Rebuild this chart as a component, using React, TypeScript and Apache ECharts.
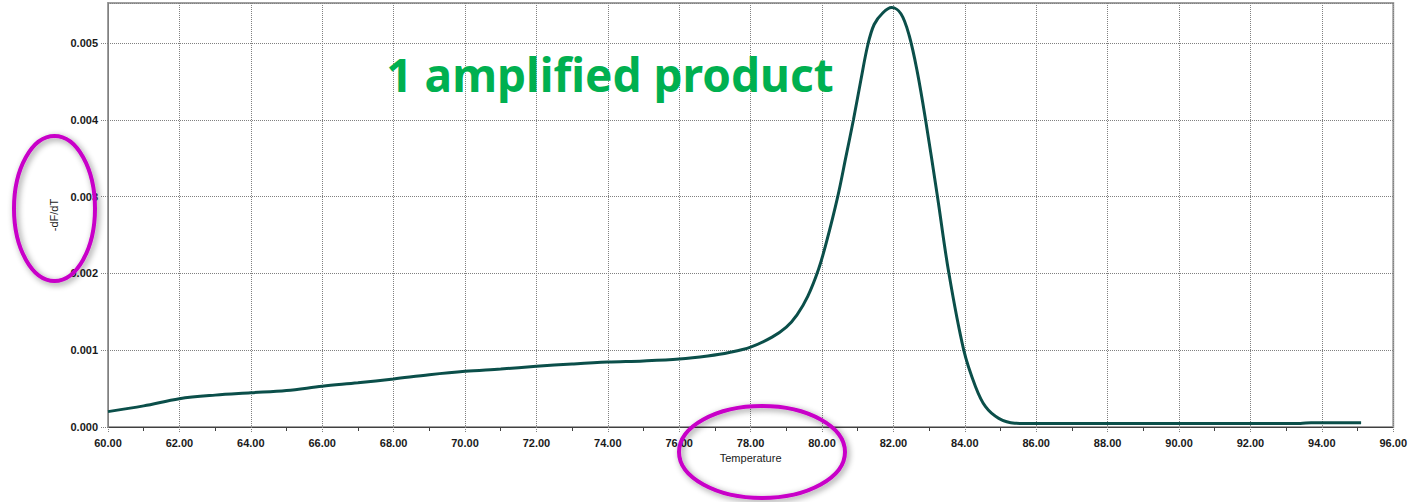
import React, { useEffect, useRef } from "react";
import * as echarts from "echarts";

// Temperature (°C) and melt curve derivative (-dF/dT)
const temperatures = [
  60, 61, 62, 63, 64, 65, 66, 67, 68, 69, 70, 71, 72, 73, 74, 75, 76,
  76.8, 77.4, 78, 78.6, 79.0, 79.3, 79.6, 79.9, 80.12, 80.44, 80.67, 80.88,
  81.09, 81.28, 81.46, 81.7, 81.95, 82.21, 82.44, 82.67, 82.9, 83.23, 83.55,
  83.97, 84.3, 84.58, 84.95, 85.4, 86, 88, 90, 92, 93.4, 93.7, 95.1,
];
const dfdt = [
  0.0002, 0.000275, 0.000368, 0.000415, 0.000445, 0.000475, 0.00053, 0.000575,
  0.000625, 0.00068, 0.000725, 0.000755, 0.00079, 0.00082, 0.000845, 0.00086,
  0.000885, 0.000925, 0.00097, 0.00104, 0.00117, 0.0013, 0.00146, 0.0017,
  0.00205, 0.0024, 0.003, 0.00352, 0.004, 0.00452, 0.00497, 0.00524, 0.00539,
  0.00546, 0.00538, 0.0051, 0.00462, 0.004, 0.00301, 0.00201, 0.001, 0.000525,
  0.000264, 0.000113, 0.00005, 0.000045, 0.000045, 0.000045, 0.000045,
  0.000046, 0.000056, 0.000056,
];

const xMin = 60;
const xMax = 96;
const xStep = 2;
const yMin = 0;
const yMax = 0.00552;
const yStep = 0.001;

const titleText = "1 amplified product";
const xName = "Temperature";
const yName = "-dF/dT";

export default function App() {
  const ref = useRef<HTMLDivElement>(null);

  useEffect(() => {
    if (!ref.current) return;
    const chart = echarts.init(ref.current, undefined, { renderer: "svg" });
    const labelFont = {
      fontFamily: '"Liberation Sans", Arial, sans-serif',
      fontSize: 11,
      fontWeight: "bold" as const,
      color: "#1a1a1a",
    };
    const dotted = { color: "#808080", width: 1, type: [1, 1] as number[] };
    chart.setOption({
      animation: false,
      backgroundColor: "#ffffff",
      grid: {
        left: 108,
        top: 3,
        right: 10,
        bottom: 75,
        show: true,
        borderColor: "#a0a0a0",
        borderWidth: 2,
        backgroundColor: "#ffffff",
      },
      xAxis: {
        type: "value",
        min: xMin,
        max: xMax,
        interval: xStep,
        name: xName,
        nameLocation: "middle",
        nameGap: 25,
        nameTextStyle: {
          fontFamily: '"Liberation Sans", Arial, sans-serif',
          fontSize: 11,
          color: "#1a1a1a",
        },
        axisLine: { show: true, lineStyle: { color: "#404040", width: 1 } },
        axisTick: { show: true, length: 6, lineStyle: dotted },
        minorTick: { show: true, splitNumber: 2, length: 4, lineStyle: { color: "#404040" } },
        axisLabel: {
          ...labelFont,
          margin: 10,
          formatter: (v: number) => v.toFixed(2),
        },
        splitLine: { show: true, lineStyle: dotted },
      },
      yAxis: {
        type: "value",
        min: yMin,
        max: yMax,
        interval: yStep,
        name: yName,
        nameLocation: "middle",
        nameGap: 46,
        nameTextStyle: {
          fontFamily: '"Liberation Sans", Arial, sans-serif',
          fontSize: 11,
          color: "#1a1a1a",
        },
        axisLine: { show: true, lineStyle: { color: "#808080", width: 1 } },
        axisTick: { show: true, length: 8, lineStyle: dotted },
        axisLabel: {
          ...labelFont,
          margin: 10,
          showMaxLabel: false,
          formatter: (v: number) => v.toFixed(3),
        },
        splitLine: { show: true, lineStyle: dotted },
      },
      series: [
        {
          type: "line",
          data: temperatures.map((t, i) => [t, dfdt[i]]),
          showSymbol: false,
          symbol: "none",
          smooth: 0.35,
          lineStyle: { color: "#0b4f4a", width: 3 },
          z: 5,
        },
      ],
      graphic: [
        {
          type: "text",
          x: 610,
          y: 74,
          z: 100,
          style: {
            text: titleText,
            font: 'bold 46px "Comic Sans MS", "Noto Sans", sans-serif',
            fill: "#00b050",
            textAlign: "center",
            align: "center",
            textVerticalAlign: "middle",
            verticalAlign: "middle",
          },
        },
        {
          type: "ellipse",
          z: 100,
          shape: { cx: 54.5, cy: 208.5, rx: 40.5, ry: 72.5 },
          style: {
            fill: "none",
            stroke: "#c800c8",
            lineWidth: 4,
            shadowBlur: 6,
            shadowColor: "rgba(0,0,0,0.45)",
            shadowOffsetX: 2,
            shadowOffsetY: 2,
          },
        },
        {
          type: "ellipse",
          z: 100,
          shape: { cx: 762, cy: 452, rx: 83, ry: 46 },
          style: {
            fill: "none",
            stroke: "#c800c8",
            lineWidth: 4,
            shadowBlur: 6,
            shadowColor: "rgba(0,0,0,0.45)",
            shadowOffsetX: 2,
            shadowOffsetY: 2,
          },
        },
      ],
    });
    return () => chart.dispose();
  }, []);

  return (
    <div
      ref={ref}
      style={{ position: "absolute", left: 0, top: 0, width: 1410, height: 502, background: "#fff" }}
    />
  );
}
